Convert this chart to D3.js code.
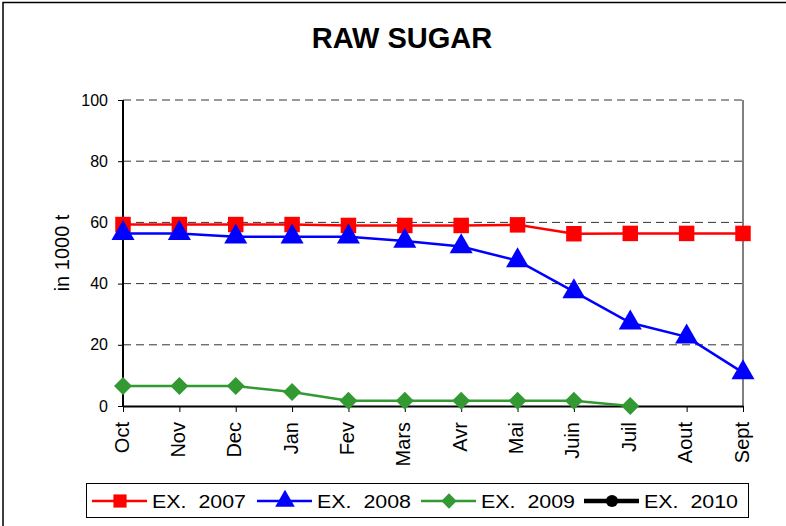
<!DOCTYPE html>
<html>
<head>
<meta charset="utf-8">
<script src="https://cdn.jsdelivr.net/npm/d3@7"></script>
<style>
  body { margin: 0; background: #fff; }
  svg { display: block; font-family: 'Liberation Sans', Arial, sans-serif; }
  .legend text { white-space: pre; }
</style>
</head>
<body>
<svg width="786" height="526"></svg>
<script>
var months = ['Oct', 'Nov', 'Dec', 'Jan', 'Fev', 'Mars', 'Avr', 'Mai', 'Juin', 'Juil', 'Aout', 'Sept'];
var ex2007 = [59.3, 59.3, 59.3, 59.3, 59, 59, 59, 59.2, 56.3, 56.4, 56.4, 56.4];
var ex2008 = [56.4, 56.4, 55.3, 55.3, 55.3, 53.9, 52.1, 47.5, 37.4, 27.2, 22.6, 10.9];
var ex2009 = [6.5, 6.5, 6.5, 4.6, 1.7, 1.7, 1.7, 1.7, 1.7, 0, null, null];
var ex2010 = [null, null, null, null, null, null, null, null, null, null, null, null];
var yTicks = [0, 20, 40, 60, 80, 100];

var series = [
  { name: 'EX.  2007', values: ex2007, color: '#ff0000', symbol: 'square', width: 2.5 },
  { name: 'EX.  2008', values: ex2008, color: '#0000ff', symbol: 'triangle', width: 2.5 },
  { name: 'EX.  2009', values: ex2009, color: '#339933', symbol: 'diamond', width: 2.5 },
  { name: 'EX.  2010', values: ex2010, color: '#000000', symbol: 'circle', width: 4 }
];

// marker shapes, scaled by size factor k
function marker(type, k) {
  if (type === 'square') return d3.symbol().type(d3.symbolSquare).size(240 * k * k)();
  if (type === 'triangle') return d3.symbol().type(d3.symbolTriangle).size(230 * k * k)();
  if (type === 'circle') return d3.symbol().type(d3.symbolCircle).size(130 * k * k)();
  var r = 9 * k;
  return `M0,${-r}L${r},0L0,${r}L${-r},0Z`;
}

var svg = d3.select('svg');

// outer chart border (left + top visible)
svg.append('path')
  .attr('d', 'M3,526 V2.5 H786')
  .attr('fill', 'none')
  .attr('stroke', '#000')
  .attr('stroke-width', 1.5);

var plotLeft = 123, plotRight = 743, plotTop = 100, plotBottom = 406;

var x = d3.scalePoint().domain(months).range([plotLeft, plotRight]);
var y = d3.scaleLinear().domain([0, 100]).range([plotBottom, plotTop]);

// grid
svg.append('g')
  .selectAll('line')
  .data(yTicks.filter(d => d > 0))
  .enter()
  .append('line')
  .attr('x1', plotLeft)
  .attr('x2', plotRight)
  .attr('y1', d => y(d))
  .attr('y2', d => y(d))
  .attr('stroke', '#333')
  .attr('stroke-dasharray', '8,5')
  .attr('stroke-width', 1);

// right border of plot area
svg.append('line')
  .attr('x1', plotRight).attr('x2', plotRight)
  .attr('y1', plotTop).attr('y2', plotBottom)
  .attr('stroke', '#808080')
  .attr('stroke-width', 2);

// axes
var yAxis = svg.append('g')
  .attr('transform', `translate(${plotLeft},0)`)
  .call(d3.axisLeft(y).tickValues(yTicks).tickSize(5).tickPadding(10));
yAxis.select('.domain').attr('stroke-width', 2).attr('d', `M0,${plotBottom}V${plotTop}`);
yAxis.selectAll('text').attr('font-size', 16).attr('fill', '#000');

var xAxis = svg.append('g')
  .attr('transform', `translate(0,${plotBottom})`)
  .call(d3.axisBottom(x).tickSize(6).tickSizeOuter(0));
xAxis.select('.domain').attr('stroke-width', 2);
xAxis.selectAll('text')
  .attr('font-size', 20)
  .attr('fill', '#000')
  .attr('transform', 'rotate(-90)')
  .attr('text-anchor', 'end')
  .attr('x', -16)
  .attr('y', -2)
  .attr('dy', '0.35em');

// lines and markers
var line = d3.line()
  .defined(d => d != null)
  .x((d, i) => x(months[i]))
  .y(d => y(d));

series.forEach(function (s) {
  svg.append('path')
    .datum(s.values)
    .attr('fill', 'none')
    .attr('stroke', s.color)
    .attr('stroke-width', s.width)
    .attr('d', line);

  svg.append('g')
    .selectAll('path')
    .data(s.values.map((v, i) => ({ v: v, m: months[i] })).filter(d => d.v != null))
    .enter()
    .append('path')
    .attr('transform', d => `translate(${x(d.m)},${y(d.v)})`)
    .attr('d', marker(s.symbol, 1))
    .attr('fill', s.color);
});

// title
svg.append('text')
  .attr('x', 402)
  .attr('y', 48)
  .attr('text-anchor', 'middle')
  .attr('font-size', 29)
  .attr('font-weight', 'bold')
  .text('RAW SUGAR');

// y label
svg.append('text')
  .attr('transform', 'translate(69,253) rotate(-90)')
  .attr('text-anchor', 'middle')
  .attr('font-size', 20)
  .text('in 1000 t');

// legend
var legend = svg.append('g').attr('class', 'legend');
legend.append('rect')
  .attr('x', 86.5).attr('y', 483.5)
  .attr('width', 662).attr('height', 34)
  .attr('fill', '#fff')
  .attr('stroke', '#000')
  .attr('stroke-width', 1);

var legendX = [92, 257, 421, 584];
series.forEach(function (s, i) {
  var g = legend.append('g').attr('transform', `translate(${legendX[i]},501)`);
  g.append('line')
    .attr('x1', 0).attr('x2', 55)
    .attr('stroke', s.color)
    .attr('stroke-width', s.width === 4 ? 4.5 : 2.5);
  g.append('path')
    .attr('transform', 'translate(28,0)')
    .attr('d', marker(s.symbol, s.symbol === 'circle' ? 0.95 : 0.85))
    .attr('fill', s.color);
  g.append('text')
    .attr('x', 60)
    .attr('dy', '0.36em')
    .attr('font-size', 19)
    .attr('textLength', 94)
    .attr('lengthAdjust', 'spacingAndGlyphs')
    .text(s.name);
});
</script>
</body>
</html>
